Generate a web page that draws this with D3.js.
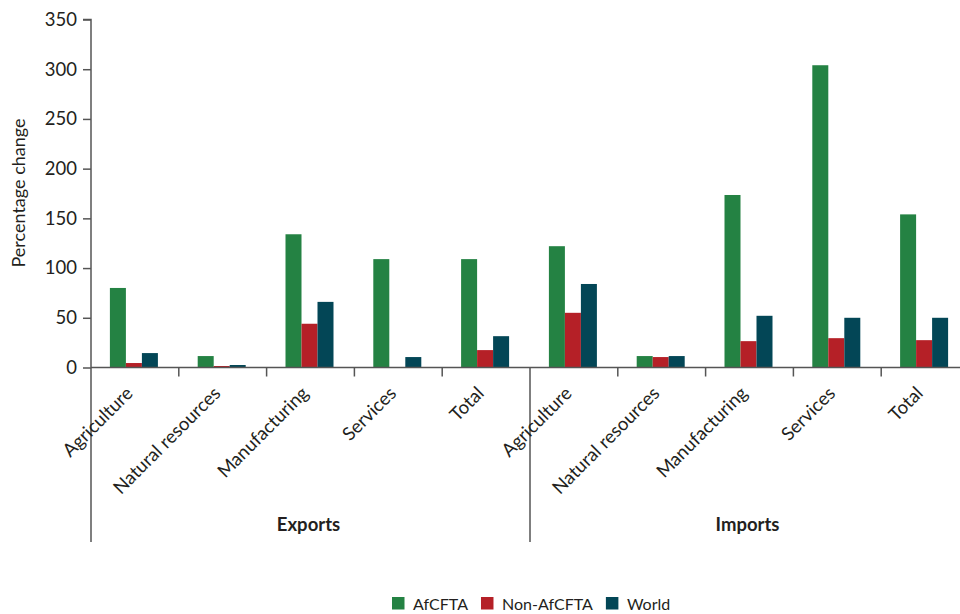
<!DOCTYPE html>
<html>
<head>
<meta charset="utf-8">
<script src="https://cdn.jsdelivr.net/npm/d3@7"></script>
<style>
  body { margin: 0; background: #fff; }
  svg { display: block; font-family: Lato, "Open Sans", sans-serif; }
</style>
</head>
<body>
<svg id="chart" width="960" height="614"></svg>
<script>
const groups = ["Exports", "Imports"];
const sectors = ["Agriculture", "Natural resources", "Manufacturing", "Services", "Total"];
const seriesNames = ["AfCFTA", "Non-AfCFTA", "World"];
const colors = ["#248243", "#b52027", "#034656"];
// values per group, sector order
const afcfta    = [80, 11.5, 134, 109, 109,   122, 11.5, 173.5, 304, 154];
const nonAfcfta = [4.5, 1.5, 44, 0, 17.5,     55, 10.5, 26.5, 29.5, 27.5];
const world     = [14.5, 2.5, 66, 10.5, 31.5, 84, 11.5, 52, 50, 50];
const yTicks = [0, 50, 100, 150, 200, 250, 300, 350];

const categories = [];
groups.forEach(g => sectors.forEach(s => categories.push(g + "|" + s)));
const seriesValues = [afcfta, nonAfcfta, world];

const svg = d3.select("#chart");
const x0 = 91, xEnd = 969, yZero = 367.5, yTop = 19.5;

const x = d3.scaleBand().domain(categories).range([x0, xEnd]).paddingInner(0).paddingOuter(0);
const xs = d3.scaleBand().domain(seriesNames).range([0, 48]);
const y = d3.scaleLinear().domain([0, 350]).range([yZero, yTop]);

// bars
seriesNames.forEach((name, si) => {
  svg.append("g").selectAll("rect")
    .data(categories.map((c, i) => ({c, v: seriesValues[si][i]})))
    .join("rect")
    .attr("x", d => x(d.c) + x.bandwidth() / 2 - 25 + xs(name))
    .attr("width", xs.bandwidth())
    .attr("y", d => y(d.v))
    .attr("height", d => yZero - y(d.v))
    .attr("fill", colors[si]);
});

// y axis
const yAxis = d3.axisLeft(y).tickValues(yTicks).tickSize(8).tickPadding(6);
const gy = svg.append("g").attr("transform", `translate(${x0},0)`).call(yAxis);
gy.select(".domain").attr("stroke", "#555").attr("stroke-width", 1.5).attr("d", `M-8,${yTop}H0V${yZero}`);
gy.selectAll(".tick line").attr("stroke", "#555").attr("stroke-width", 1.5);
gy.selectAll(".tick text").attr("fill", "#231f20").style("font-size", "18.5px").style("font-family", "Lato, sans-serif");

// x axis line
svg.append("line").attr("x1", x0).attr("x2", 960).attr("y1", yZero).attr("y2", yZero)
  .attr("stroke", "#555").attr("stroke-width", 1.5);

// tick separators between categories
categories.forEach((c, i) => {
  if (i === 0 || i === 5) return;
  svg.append("line").attr("x1", x(c)).attr("x2", x(c)).attr("y1", yZero).attr("y2", yZero + 9)
    .attr("stroke", "#555").attr("stroke-width", 1.5);
});

// group dividers
[0, 5].forEach(i => {
  const xx = x(categories[i]);
  svg.append("line").attr("x1", xx).attr("x2", xx).attr("y1", yZero).attr("y2", 542)
    .attr("stroke", "#555").attr("stroke-width", 1.5);
});

// category labels
svg.append("g").selectAll("text")
  .data(categories)
  .join("text")
  .attr("transform", d => `translate(${x(d) + x.bandwidth() / 2 - 1},${yZero + 27}) rotate(-45)`)
  .attr("text-anchor", "end")
  .attr("fill", "#231f20")
  .style("font-size", "18.5px")
  .text(d => d.split("|")[1]);

// group labels
groups.forEach((g, gi) => {
  const start = x(categories[gi * 5]);
  const end = gi === 0 ? x(categories[5]) : xEnd;
  svg.append("text")
    .attr("x", (start + end) / 2 - 2)
    .attr("y", 531)
    .attr("text-anchor", "middle")
    .attr("fill", "#231f20")
    .style("font-size", "18.5px")
    .style("font-weight", "bold")
    .text(g);
});

// y title
svg.append("text")
  .attr("transform", `translate(25,${193}) rotate(-90)`)
  .attr("text-anchor", "middle")
  .attr("fill", "#231f20")
  .style("font-size", "18px")
  .text("Percentage change");

// legend
const legend = svg.append("g").attr("transform", "translate(392,597)");
let lx = 0;
seriesNames.forEach((name, i) => {
  const g = legend.append("g").attr("transform", `translate(${lx},0)`);
  g.append("rect").attr("width", 12.5).attr("height", 12.5).attr("fill", colors[i]);
  const t = g.append("text").attr("x", 21).attr("y", 12.5).attr("fill", "#231f20")
    .style("font-size", "16px").text(name);
  lx += 21 + t.node().getComputedTextLength() + 13;
});
</script>
</body>
</html>
